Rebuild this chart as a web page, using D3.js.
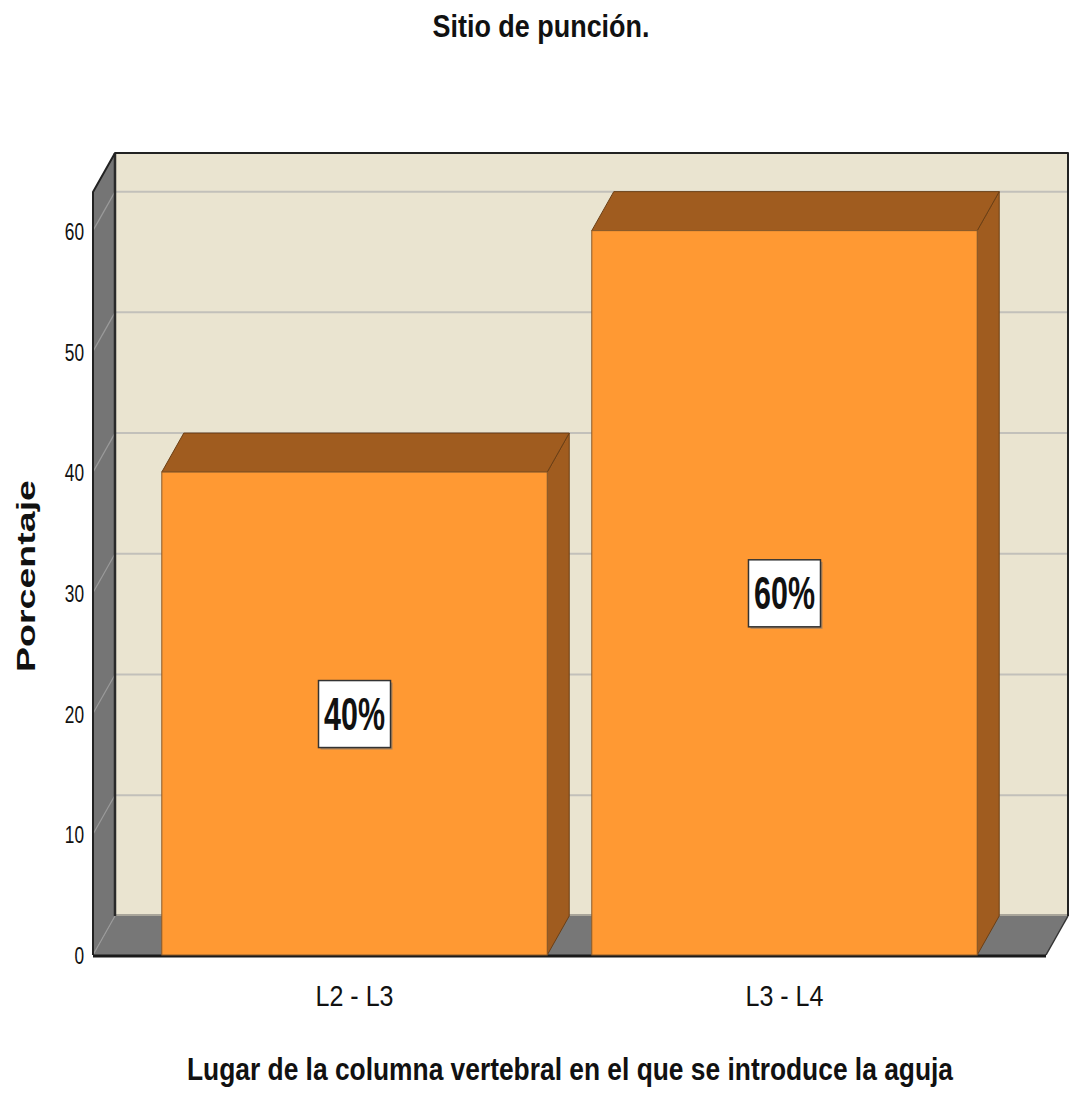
<!DOCTYPE html>
<html>
<head>
<meta charset="utf-8">
<script src="https://cdn.jsdelivr.net/npm/d3@7"></script>
<style>
  html, body { margin: 0; padding: 0; background: #ffffff; }
  svg { display: block; }
  text { font-family: "Liberation Sans", Arial, sans-serif; fill: #111; }
</style>
</head>
<body>
<script>
// Chart data
const categories = ["L2 - L3", "L3 - L4"];
const percentages = [40, 60];
const valueLabels = ["40%", "60%"];
const yTicks = [0, 10, 20, 30, 40, 50, 60];
const titleText = "Sitio de punción.";
const xTitleText = "Lugar de la columna vertebral en el que se introduce la aguja";
const yTitleText = "Porcentaje";

const W = 1073, H = 1095;
const svg = d3.select("body").append("svg").attr("width", W).attr("height", H);

// Front plane of the 3D box and the depth offset of the back wall
const frontLeft = 93, frontRight = 1046, frontBottom = 955, frontTop = 192;
const DX = 22, DY = -39;

const y = d3.scaleLinear().domain([0, 63.2]).range([frontBottom, frontTop]);
const x = d3.scaleBand().domain(categories).range([frontLeft, frontRight])
  .paddingInner(0.1036).paddingOuter(0.16);

const poly = pts => "M" + pts.map(p => p.join(",")).join("L") + "Z";

const colors = {
  wall: "#eae4d0",
  side: "#757575",
  floor: "#777777",
  grid: "#c2c0ba",
  sideGrid: "#9a9a9a",
  barFront: "#ff9933",
  barDark: "#a05c1f",
  barEdge: "#6b3f15"
};

// Back wall
svg.append("rect")
  .attr("x", frontLeft + DX).attr("y", frontTop + DY)
  .attr("width", frontRight - frontLeft).attr("height", frontBottom - frontTop)
  .attr("fill", colors.wall);

// Horizontal gridlines on the back wall
svg.append("g").selectAll("line").data(yTicks.filter(d => d > 0)).join("line")
  .attr("x1", frontLeft + DX).attr("x2", frontRight + DX)
  .attr("y1", d => y(d) + DY).attr("y2", d => y(d) + DY)
  .attr("stroke", colors.grid).attr("stroke-width", 2);

// Floor
svg.append("path")
  .attr("d", poly([[frontLeft, frontBottom], [frontLeft + DX, frontBottom + DY],
                   [frontRight + DX, frontBottom + DY], [frontRight, frontBottom]]))
  .attr("fill", colors.floor);
svg.append("line")
  .attr("x1", frontLeft + DX).attr("x2", frontRight + DX)
  .attr("y1", frontBottom + DY - 1).attr("y2", frontBottom + DY - 1)
  .attr("stroke", "#a9a59a").attr("stroke-width", 2);
svg.append("line")
  .attr("x1", frontRight + DX).attr("y1", frontBottom + DY)
  .attr("x2", frontRight).attr("y2", frontBottom)
  .attr("stroke", "#333").attr("stroke-width", 1.5);

// Left side wall
svg.append("path")
  .attr("d", poly([[frontLeft, frontTop], [frontLeft + DX, frontTop + DY],
                   [frontLeft + DX, frontBottom + DY], [frontLeft, frontBottom]]))
  .attr("fill", colors.side);

// Diagonal gridlines on the side wall
svg.append("g").selectAll("line").data(yTicks).join("line")
  .attr("x1", frontLeft).attr("y1", d => y(d))
  .attr("x2", frontLeft + DX).attr("y2", d => y(d) + DY)
  .attr("stroke", colors.sideGrid).attr("stroke-width", 1.2);

// Box edges
svg.append("line")
  .attr("x1", frontLeft + DX).attr("x2", frontLeft + DX)
  .attr("y1", frontTop + DY).attr("y2", frontBottom + DY)
  .attr("stroke", "#2a2a2a").attr("stroke-width", 2.5);
svg.append("path")
  .attr("d", `M${frontLeft},${frontBottom}L${frontLeft},${frontTop}L${frontLeft + DX},${frontTop + DY}L${frontRight + DX},${frontTop + DY}L${frontRight + DX},${frontBottom + DY}`)
  .attr("fill", "none").attr("stroke", "#222").attr("stroke-width", 2)
  .attr("stroke-linejoin", "round");
svg.append("line")
  .attr("x1", frontLeft).attr("x2", frontRight)
  .attr("y1", frontBottom + 1).attr("y2", frontBottom + 1)
  .attr("stroke", "#1a1a1a").attr("stroke-width", 3);

// Bars: side, top, front
const bars = svg.append("g").selectAll("g").data(categories).join("g");
bars.each(function (c, i) {
  const g = d3.select(this);
  const x0 = x(c), x1 = x(c) + x.bandwidth();
  const yt = y(percentages[i]), yb = y(0);
  g.append("path")
    .attr("d", poly([[x1, yt], [x1 + DX, yt + DY], [x1 + DX, yb + DY], [x1, yb]]))
    .attr("fill", colors.barDark).attr("stroke", colors.barEdge).attr("stroke-width", 1);
  g.append("path")
    .attr("d", poly([[x0, yt], [x0 + DX, yt + DY], [x1 + DX, yt + DY], [x1, yt]]))
    .attr("fill", colors.barDark).attr("stroke", colors.barEdge).attr("stroke-width", 1);
  g.append("rect")
    .attr("x", x0).attr("y", yt).attr("width", x1 - x0).attr("height", yb - yt)
    .attr("fill", colors.barFront).attr("stroke", "#8a5a2a").attr("stroke-width", 1);
});

// Value labels in boxes at mid-height of each bar
const lab = svg.append("g").selectAll("g").data(categories).join("g")
  .attr("transform", (c, i) => `translate(${x(c) + x.bandwidth() / 2},${y(percentages[i] / 2)})`);
lab.append("rect")
  .attr("x", -34).attr("y", -31).attr("width", 72).attr("height", 67)
  .attr("fill", "#777").attr("opacity", 0.6);
lab.append("rect")
  .attr("x", -36).attr("y", -33).attr("width", 72).attr("height", 67)
  .attr("fill", "#fff").attr("stroke", "#333").attr("stroke-width", 1.5);
lab.append("text")
  .attr("text-anchor", "middle").attr("y", 16.5)
  .attr("font-size", 46).attr("font-weight", "bold")
  .attr("textLength", 61).attr("lengthAdjust", "spacingAndGlyphs")
  .text((c, i) => valueLabels[i]);

// Y axis tick labels
const yAxis = svg.append("g")
  .attr("transform", `translate(${frontLeft - 9},0)`)
  .call(d3.axisLeft(y).tickValues(yTicks).tickSize(0).tickPadding(0));
yAxis.select(".domain").remove();
yAxis.selectAll("text")
  .attr("font-size", 24).attr("font-family", "Liberation Sans, Arial, sans-serif")
  .attr("fill", "#222").attr("dy", "0.36em")
  .attr("text-anchor", "end")
  .each(function () {
    const w = this.getComputedTextLength();
    d3.select(this).attr("textLength", w * 0.72).attr("lengthAdjust", "spacingAndGlyphs");
  });

// X axis category labels
const xAxis = svg.append("g")
  .attr("transform", `translate(0,${frontBottom})`)
  .call(d3.axisBottom(x).tickSize(0).tickPadding(0));
xAxis.select(".domain").remove();
xAxis.selectAll("text")
  .attr("font-size", 30).attr("font-family", "Liberation Sans, Arial, sans-serif")
  .attr("fill", "#222").attr("y", 51).attr("dy", 0)
  .attr("textLength", 78).attr("lengthAdjust", "spacingAndGlyphs");

// Titles
svg.append("text")
  .attr("x", 541).attr("y", 37).attr("text-anchor", "middle")
  .attr("font-size", 32).attr("font-weight", "bold")
  .attr("textLength", 217).attr("lengthAdjust", "spacingAndGlyphs")
  .text(titleText);

svg.append("text")
  .attr("x", 570).attr("y", 1080).attr("text-anchor", "middle")
  .attr("font-size", 31).attr("font-weight", "bold")
  .attr("textLength", 766).attr("lengthAdjust", "spacingAndGlyphs")
  .text(xTitleText);

svg.append("text")
  .attr("transform", "translate(35,576) rotate(-90)")
  .attr("text-anchor", "middle")
  .attr("font-size", 26).attr("font-weight", "bold")
  .attr("textLength", 192).attr("lengthAdjust", "spacingAndGlyphs")
  .text(yTitleText);
</script>
</body>
</html>
